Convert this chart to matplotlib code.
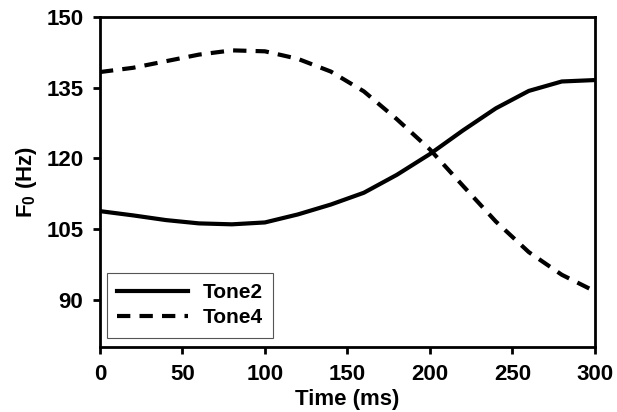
import matplotlib
matplotlib.use('Agg')
import matplotlib.pyplot as plt

plt.rcParams['font.family'] = ['Liberation Sans', 'DejaVu Sans']
plt.rcParams['mathtext.default'] = 'regular'

# values
time_ms = [0, 20, 40, 60, 80, 100, 120, 140, 160, 180, 200, 220, 240, 260, 280, 300]
tone2 = [108.8, 107.9, 106.9, 106.2, 106.0, 106.4, 108.1, 110.2, 112.7, 116.5,
         120.9, 125.9, 130.6, 134.3, 136.3, 136.6]
tone4 = [138.3, 139.2, 140.6, 142.0, 142.9, 142.7, 141.1, 138.4, 134.2, 128.3,
         121.9, 114.2, 106.6, 100.1, 95.3, 91.8]
xticks = [0, 50, 100, 150, 200, 250, 300]
yticks = [90, 105, 120, 135, 150]

fig = plt.figure(figsize=(6.17, 4.12), dpi=100)
ax = fig.add_axes([0.162, 0.158, 0.802, 0.801])

ax.plot(time_ms, tone2, color='black', lw=3, label='Tone2')
ax.plot(time_ms, tone4, color='black', lw=3, linestyle=(0, (3.2, 2.2)), label='Tone4')

ax.set_xlim(0, 300)
ax.set_ylim(80, 150)
ax.set_xticks(xticks)
ax.set_yticks(yticks)
ax.tick_params(direction='out', length=5, width=2, labelsize=16, pad=7)
for lab in ax.get_xticklabels() + ax.get_yticklabels():
    lab.set_fontweight('bold')
for sp in ax.spines.values():
    sp.set_linewidth(2)

ax.set_xlabel('Time (ms)', fontsize=16, fontweight='bold', labelpad=3)
ax.set_ylabel(r'F$_{0}$ (Hz)', fontsize=16, fontweight='bold', labelpad=5)

leg = ax.legend(loc='lower left', bbox_to_anchor=(0.0135, 0.028), borderaxespad=0,
                fancybox=False, edgecolor='#555555', framealpha=1,
                prop={'size': 15, 'weight': 'bold'}, handlelength=3.4,
                handletextpad=0.7, labelspacing=0.3, borderpad=0.5)
leg.get_frame().set_linewidth(0.8)

fig.savefig('out.png', dpi=100, facecolor='white')
